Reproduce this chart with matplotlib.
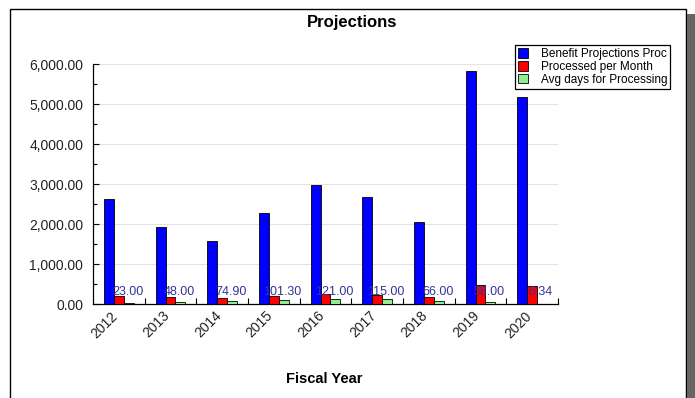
import matplotlib
matplotlib.use("Agg")
import matplotlib.pyplot as plt
import matplotlib.transforms as mtransforms
import numpy as np
from matplotlib.ticker import FuncFormatter, MultipleLocator, FixedLocator
from matplotlib.patches import Rectangle

years = ["2012", "2013", "2014", "2015", "2016", "2017", "2018", "2019", "2020"]
benefit_proj = [2625, 1925, 1575, 2275, 2975, 2675, 2050, 5825, 5175]
processed_month = [190, 165, 140, 200, 250, 225, 165, 480, 455]
avg_days = [23.00, 48.00, 74.90, 101.30, 121.00, 115.00, 66.00, 58.00, 6.34]
series_names = ["Benefit Projections Proc", "Processed per Month", "Avg days for Processing"]
series_colors = ["#0000ff", "#ff0000", "#90ee90"]

plt.rcParams['font.family'] = ['Liberation Sans', 'DejaVu Sans']

W, H = 695, 398
fig = plt.figure(figsize=(W / 100, H / 100), dpi=100)
ax = fig.add_axes([93 / W, 1 - 304 / H, (558 - 93) / W, (304 - 64) / H])

x = np.arange(len(years))
bw = 0.19
for i, (vals, name, col) in enumerate(zip([benefit_proj, processed_month, avg_days], series_names, series_colors)):
    ax.bar(x + (i - 1) * bw, vals, width=bw, color=col, edgecolor='black', linewidth=0.6,
           label=name, zorder=3)

for xi, v in zip(x, avg_days):
    ax.annotate(f"{v:.2f}", xy=(xi + bw - 0.02, 0), xytext=(0, 8.5), textcoords='offset points',
                ha='center', va='center', fontsize=9, color='#333399', zorder=5)

ax.set_xlim(-0.5, len(years) - 0.5)
ax.set_ylim(0, 6000)
ax.yaxis.set_major_locator(MultipleLocator(1000))
ax.yaxis.set_minor_locator(MultipleLocator(500))
ax.yaxis.set_major_formatter(FuncFormatter(lambda v, p: f"{v:,.2f}"))
ax.tick_params(axis='y', which='major', direction='in', length=4, width=0.8, labelsize=10,
               labelcolor='#222222', pad=7)
ax.tick_params(axis='y', which='minor', direction='in', length=3, width=0.8)

ax.set_xticks(x)
ax.set_xticklabels(years, rotation=45, ha='right', va='center', rotation_mode='anchor')
ax.tick_params(axis='x', which='major', length=0, labelsize=10, labelcolor='#222222', pad=7)
offset = mtransforms.ScaledTranslation(-3 / 100, 0, fig.dpi_scale_trans)
for lbl in ax.get_xticklabels():
    lbl.set_transform(lbl.get_transform() + offset)
ax.xaxis.set_minor_locator(FixedLocator(np.arange(0.5, len(years), 1.0)))
ax.tick_params(axis='x', which='minor', direction='in', length=4, width=0.8)

ax.grid(axis='y', which='major', color='#e3e3e3', linewidth=0.8, zorder=0)
ax.set_axisbelow(True)
for s in ['top', 'right']:
    ax.spines[s].set_visible(False)
for s in ['left', 'bottom']:
    ax.spines[s].set_linewidth(0.9)

fig.text(352 / W, 1 - 22 / H, "Projections", ha='center', va='center', fontsize=12, fontweight='bold')
fig.text(324 / W, 1 - 379 / H, "Fiscal Year", ha='center', va='center', fontsize=10.5, fontweight='bold')

leg = ax.legend(loc='upper right', bbox_to_anchor=(670 / W, 1 - 45 / H), bbox_transform=fig.transFigure,
                borderaxespad=0, fontsize=8.5, fancybox=False, edgecolor='black', framealpha=1,
                handlelength=0.85, handleheight=0.85, handletextpad=1.1, labelspacing=0.08,
                borderpad=0.25)
leg.get_frame().set_linewidth(0.9)
leg.set_zorder(10)

# outer frame and shadow
fig.patches.append(Rectangle((10 / W, -0.05), (686 - 10) / W, 1.05 - 9 / H, transform=fig.transFigure,
                             fill=False, edgecolor='black', linewidth=1.0))
fig.patches.append(Rectangle((687 / W, 0), 8 / W, 1 - 14 / H, transform=fig.transFigure,
                             facecolor='#666666', edgecolor='none'))

fig.savefig("out.png", dpi=100)
